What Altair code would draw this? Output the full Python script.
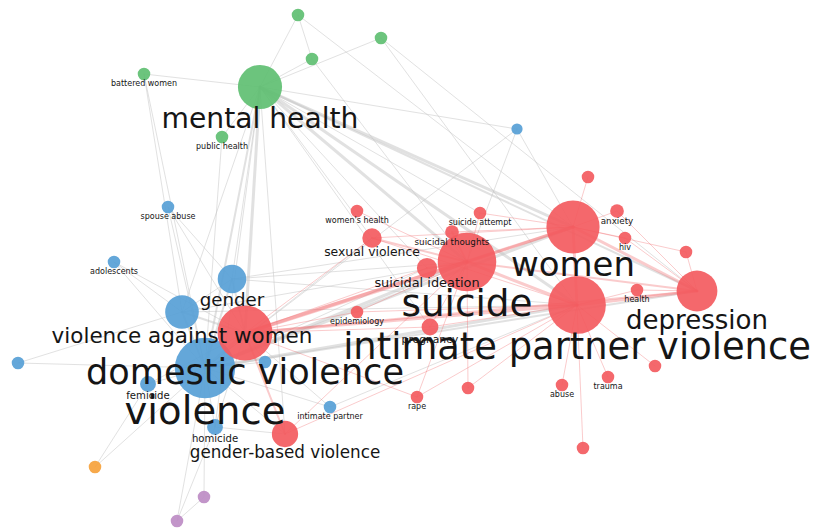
import math
import altair as alt
import pandas as pd

# Keyword co-occurrence map: layout coordinates, occurrences and cluster per keyword
labels = [
    "mental health", "", "", "", "battered women", "public health",
    "violence", "violence against women", "gender", "spouse abuse", "adolescents",
    "femicide", "homicide", "intimate partner", "", "", "",
    "domestic violence", "suicide", "intimate partner violence", "women", "depression",
    "gender-based violence", "sexual violence", "suicidal ideation", "women's health",
    "suicide attempt", "suicidal thoughts", "epidemiology", "pregnancy", "", "anxiety",
    "hiv", "", "health", "", "trauma", "abuse", "", "rape", "",
    "", "", "",
]
map_x = [
    260, 298, 381, 312, 144, 222,
    205, 182, 232, 168, 114, 148, 215, 330, 18, 265, 517,
    245, 467, 577, 573, 697, 285, 372, 427, 357, 480, 452, 357, 430, 588, 617,
    625, 686, 637, 655, 608, 562, 468, 417, 583,
    95, 204, 177,
]
map_y = [
    87, 15, 38, 59, 74, 137,
    368, 312, 279, 207, 262, 384, 427, 407, 363, 362, 129,
    333, 262, 305, 227, 291, 434, 238, 268, 211, 213, 232, 312, 327, 177, 211,
    238, 252, 290, 366, 377, 385, 388, 397, 448,
    467, 497, 521,
]
occurrences = [
    62, 5, 5, 5, 5, 5,
    116, 36, 26, 5, 5, 8, 8, 5, 5, 5, 4,
    96, 109, 106, 90, 53, 22, 12, 13, 5, 5, 6, 5, 9, 5, 6,
    5, 5, 5, 5, 5, 5, 5, 5, 5,
    5, 5, 5,
]
cluster = [
    1, 1, 1, 1, 1, 1,
    2, 2, 2, 2, 2, 2, 2, 2, 2, 2, 2,
    3, 3, 3, 3, 3, 3, 3, 3, 3, 3, 3, 3, 3, 3, 3,
    3, 3, 3, 3, 3, 3, 3, 3, 3,
    4, 5, 5,
]

# Links between keywords (index pairs) and their strength
edge_source = [
    0, 0, 0, 0, 0, 0, 0, 0, 0, 0, 0, 0, 0, 0, 0, 0, 0, 0, 0,
    1, 2, 3, 2, 1,
    4, 4, 9, 9, 9, 10, 10, 10, 14, 14, 11, 11, 12, 12, 12,
    13, 13, 13, 15, 15, 16, 16, 16, 16, 41, 41, 42, 42, 43, 43,
    6, 6, 6, 7, 7, 8, 6, 6, 6, 6, 7, 7, 8, 8, 8, 6, 6, 6, 5,
    17, 17, 17, 17, 18, 18, 19, 19, 20, 18,
    18, 18, 18, 18, 18, 18, 18, 18, 18,
    20, 20, 20, 20, 20, 20, 20,
    21, 21, 21, 21,
    19, 19, 19, 19, 19, 19, 19, 19, 19, 19, 19,
    17, 17, 17, 17, 17, 18, 17,
]
edge_target = [
    1, 2, 3, 4, 5, 6, 7, 8, 17, 18, 19, 20, 21, 22, 23, 24, 12, 26, 29,
    20, 21, 18, 19, 3,
    6, 7, 6, 17, 8, 6, 7, 17, 7, 6, 6, 17, 6, 17, 22,
    6, 17, 19, 6, 17, 18, 20, 6, 0, 6, 11, 43, 6, 6, 12,
    7, 8, 17, 8, 17, 17, 18, 19, 20, 21, 18, 19, 18, 20, 19, 23, 24, 22, 6,
    18, 20, 19, 21, 20, 19, 20, 21, 21, 21,
    24, 27, 23, 26, 25, 28, 29, 38, 39,
    26, 30, 31, 32, 33, 27, 23,
    31, 33, 34, 32,
    34, 35, 36, 37, 38, 40, 29, 39, 22, 23, 28,
    22, 23, 24, 28, 29, 22, 39,
]
edge_strength = [
    1, 1, 1, 1, 1, 2, 1, 1, 3, 3, 3, 3, 2, 1, 1, 1, 1, 1, 1,
    1, 1, 1, 1, 1,
    1, 1, 1, 1, 1, 1, 1, 1, 1, 1, 1, 1, 1, 1, 1,
    1, 1, 1, 1, 1, 1, 1, 1, 1, 1, 1, 1, 1, 1, 1,
    2, 2, 3, 1, 2, 2, 3, 3, 3, 2, 1, 1, 1, 1, 1, 1, 1, 1, 1,
    4, 3, 3, 2, 3, 3, 3, 3, 3, 2,
    2, 2, 2, 1, 1, 1, 1, 1, 1,
    1, 1, 1, 1, 1, 1, 1,
    1, 1, 1, 1,
    1, 1, 1, 1, 1, 1, 1, 1, 1, 1, 1,
    2, 1, 1, 1, 1, 1, 1,
]

cluster_colors = ["#5fbf72", "#579fd6", "#f6a23c", "#bd8cc4", "#f35b5f"]
cluster_names = [1, 2, 4, 5, 3]

nodes = pd.DataFrame({
    "label": labels, "x": map_x, "y": map_y,
    "occ": occurrences, "cluster": cluster,
})
# label sits under its circle: offset grows with the circle radius / font size
nodes["ly"] = nodes["y"] + 5.2 * nodes["occ"].pow(0.5)
# blue / green / others first, red cluster drawn on top
nodes["order"] = nodes["cluster"].map({1: 0, 2: 1, 4: 2, 5: 3, 3: 4})
nodes = nodes.sort_values("order", kind="stable")

edges = pd.DataFrame({
    "s": edge_source, "t": edge_target, "w": edge_strength,
})
edges["x1"] = [map_x[i] for i in edges["s"]]
edges["y1"] = [map_y[i] for i in edges["s"]]
edges["x2"] = [map_x[i] for i in edges["t"]]
edges["y2"] = [map_y[i] for i in edges["t"]]
edges["kind"] = [
    "inner" if cluster[a] == 3 and cluster[b] == 3 else "cross"
    for a, b in zip(edges["s"], edges["t"])
]

W, H = 831, 532
xs = alt.Scale(domain=[0, W], nice=False, zero=False)
ys = alt.Scale(domain=[0, H], nice=False, zero=False, reverse=True)

links = alt.Chart(edges).mark_rule(strokeCap="round").encode(
    x=alt.X("x1:Q", scale=xs, axis=None),
    y=alt.Y("y1:Q", scale=ys, axis=None),
    x2="x2:Q",
    y2="y2:Q",
    color=alt.Color("kind:N", scale=alt.Scale(domain=["inner", "cross"],
                                              range=["#f26a6e", "#c4c4c4"]), legend=None),
    opacity=alt.Opacity("kind:N", scale=alt.Scale(domain=["inner", "cross"],
                                                  range=[0.35, 0.5]), legend=None),
    strokeWidth=alt.StrokeWidth("w:Q", scale=alt.Scale(domain=[1, 4], range=[1.0, 4.0]),
                                legend=None),
)

circles = alt.Chart(nodes).mark_circle(opacity=0.92).encode(
    x=alt.X("x:Q", scale=xs, axis=None),
    y=alt.Y("y:Q", scale=ys, axis=None),
    size=alt.Size("occ:Q", scale=alt.Scale(type="linear", domain=[0, 100],
                                           range=[0, 1000 * math.pi]), legend=None),
    color=alt.Color("cluster:N", scale=alt.Scale(domain=cluster_names,
                                                 range=cluster_colors), legend=None),
    order=alt.Order("order:Q"),
)

texts = alt.Chart(nodes).transform_filter(
    alt.datum.label != ""
).mark_text(font="DejaVu Sans", align="center", baseline="alphabetic",
            color="#151515").encode(
    x=alt.X("x:Q", scale=xs, axis=None),
    y=alt.Y("ly:Q", scale=ys, axis=None),
    text="label:N",
    size=alt.Size("occ:Q", scale=alt.Scale(type="sqrt", domain=[0, 100],
                                           range=[0, 35.8]), legend=None),
)

chart = alt.layer(links, circles, texts).resolve_scale(
    color="independent", size="independent", opacity="independent"
).properties(
    width=W, height=H, padding=0, autosize=alt.AutoSizeParams(type="none"),
    background="white",
).configure_view(stroke=None)

chart.save("out.html", embed_options={"renderer": "svg", "actions": False})
